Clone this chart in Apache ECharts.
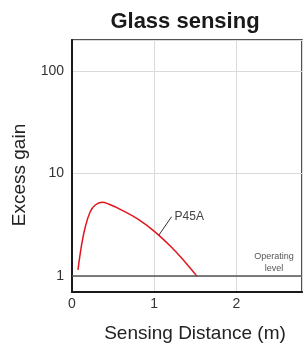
<!DOCTYPE html>
<html>
<head>
<meta charset="utf-8">
<script src="https://cdn.jsdelivr.net/npm/echarts@6/dist/echarts.min.js"></script>
<style>
  html, body { margin: 0; padding: 0; background: #fff; }
  #chart { width: 304px; height: 352px; }
</style>
</head>
<body>
<div id="chart"></div>
<script>
// P45A excess gain curve (distance in m, gain)
var distance = [0.073, 0.113, 0.162, 0.222, 0.283, 0.364, 0.444, 0.606, 0.808, 1.01, 1.212, 1.373, 1.52];
var gain     = [1.15, 1.93, 3.03, 4.24, 4.93, 5.24, 5.04, 4.40, 3.57, 2.70, 1.91, 1.38, 1.00];
// leader from curve to the "P45A" label
var leaderX = [1.058, 1.212];
var leaderY = [2.51, 3.79];
var operatingLevel = 1;

var chart = echarts.init(document.getElementById('chart'));

var curve = [];
for (var i = 0; i < distance.length; i++) {
    curve.push([distance[i], gain[i]]);
}
var leader = [];
for (var j = 0; j < leaderX.length; j++) {
    leader.push([leaderX[j], leaderY[j]]);
}

var option = {
    backgroundColor: '#fff',
    animation: false,
    title: {
        text: 'Glass sensing',
        left: 180,
        textAlign: 'center',
        top: 6,
        textStyle: { fontFamily: 'Liberation Sans', fontSize: 22, fontWeight: 'bold', color: '#1a1a1a' }
    },
    grid: {
        left: 72, top: 40, right: 2, bottom: 60,
        show: true,
        borderColor: '#1a1a1a',
        borderWidth: 1.5
    },
    xAxis: {
        type: 'value',
        min: 0,
        max: 2.8,
        interval: 1,
        name: 'Sensing Distance (m)',
        nameLocation: 'middle',
        nameGap: 32,
        nameTextStyle: { fontFamily: 'Liberation Sans', fontSize: 19, color: '#222', padding: [0, 0, 0, 16] },
        axisLine: { show: true, lineStyle: { color: '#1a1a1a', width: 2 } },
        axisTick: { show: false },
        axisLabel: { margin: 5, fontFamily: 'Liberation Sans', fontSize: 14, color: '#333', showMaxLabel: false },
        splitLine: { show: true, lineStyle: { color: '#dadada', width: 1 } }
    },
    yAxis: {
        type: 'log',
        logBase: 10,
        min: 0.7,
        max: 200,
        name: 'Excess gain',
        nameLocation: 'middle',
        nameGap: 36,
        nameTextStyle: { fontFamily: 'Liberation Sans', fontSize: 19, color: '#222', padding: [0, 18, 0, 0] },
        axisLine: { show: true, lineStyle: { color: '#1a1a1a', width: 2 } },
        axisTick: { show: false },
        axisLabel: { margin: 8, fontFamily: 'Liberation Sans', fontSize: 14, color: '#333', showMinLabel: false, showMaxLabel: false },
        splitLine: { show: true, lineStyle: { color: '#dadada', width: 1 } }
    },
    series: [
        {
            name: 'P45A',
            type: 'line',
            data: curve,
            smooth: 0.4,
            showSymbol: false,
            lineStyle: { color: '#e0161f', width: 1.5 },
            markLine: {
                silent: true,
                symbol: ['none', 'none'],
                label: { show: false },
                lineStyle: { color: '#555', width: 1.5, type: 'solid' },
                data: [{ yAxis: operatingLevel }]
            },
            z: 3
        },
        {
            name: 'leader',
            type: 'line',
            data: leader,
            showSymbol: false,
            lineStyle: { color: '#333', width: 1 },
            endLabel: {
                show: true,
                formatter: 'P45A',
                distance: 3,
                fontFamily: 'Liberation Sans',
                fontSize: 12,
                color: '#444'
            }
        }
    ],
    graphic: [
        {
            type: 'text',
            x: 274,
            y: 251,
            style: {
                text: 'Operating\nlevel',
                align: 'center',
                verticalAlign: 'top',
                fontFamily: 'Liberation Sans',
                fontSize: 9,
                lineHeight: 12,
                fill: '#555'
            }
        }
    ]
};

chart.setOption(option);
</script>
</body>
</html>
